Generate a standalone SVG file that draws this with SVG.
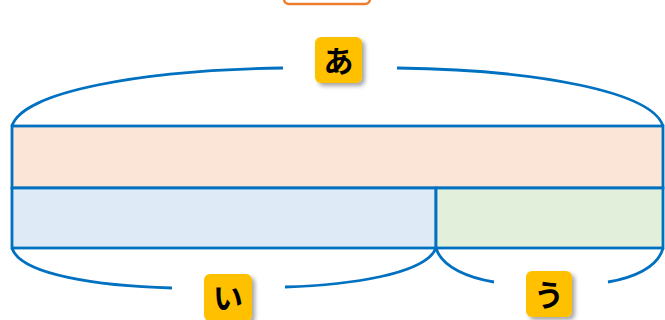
<svg xmlns="http://www.w3.org/2000/svg" width="665" height="320" viewBox="0 0 665 320">
<defs>
<filter id="sh" x="-30%" y="-30%" width="170%" height="170%">
<feDropShadow dx="3" dy="3" stdDeviation="2" flood-color="#000" flood-opacity="0.35"/>
</filter>
<style>
.bar{stroke:#0070C0;stroke-width:2.8}
.br{fill:none;stroke:#0070C0;stroke-width:2.8;stroke-linecap:butt}
.lb{fill:#FFC000}
.tx{font-family:"Noto Sans CJK JP","Noto Sans CJK SC",sans-serif;font-size:30px;font-weight:700;fill:#000;text-anchor:middle;dominant-baseline:central}
</style>
</defs>
<rect width="665" height="320" fill="#fff"/>
<g id="title">
<rect x="284" y="-30" width="86" height="34" rx="5" fill="#fff" stroke="#ED7D31" stroke-width="2.5"/>
</g>
<g id="bar-total">
<rect class="bar" x="12" y="126" width="651" height="62" fill="#FBE5D6"/>
</g>
<g id="bar-i">
<rect class="bar" x="12" y="188" width="424" height="60" fill="#DEEBF7"/>
</g>
<g id="bar-u">
<rect class="bar" x="436" y="188" width="227" height="60" fill="#E2EFDA"/>
</g>
<g id="connectors">
<path class="br" d="M12,126 C22,92 140,70 283,68"/>
<path class="br" d="M397,68 C540,70 652,92 663,126"/>
<path class="br" d="M12,248 C20,275 100,286 172,288"/>
<path class="br" d="M436,248 C426,274 350,285 285,287"/>
<path class="br" d="M436,248 C442,268 470,278 494,282"/>
<path class="br" d="M663,248 C658,268 632,278 608,282"/>
</g>
<g id="label-a">
<rect class="lb" x="315" y="37" width="47" height="46" rx="6" filter="url(#sh)"/>
<text class="tx" x="338.5" y="59">あ</text>
</g>
<g id="label-i">
<rect class="lb" x="204" y="274" width="48" height="47" rx="6" filter="url(#sh)"/>
<text class="tx" x="228" y="296">い</text>
</g>
<g id="label-u">
<rect class="lb" x="526" y="271" width="46" height="46" rx="6" filter="url(#sh)"/>
<text class="tx" x="549" y="293">う</text>
</g>
</svg>
